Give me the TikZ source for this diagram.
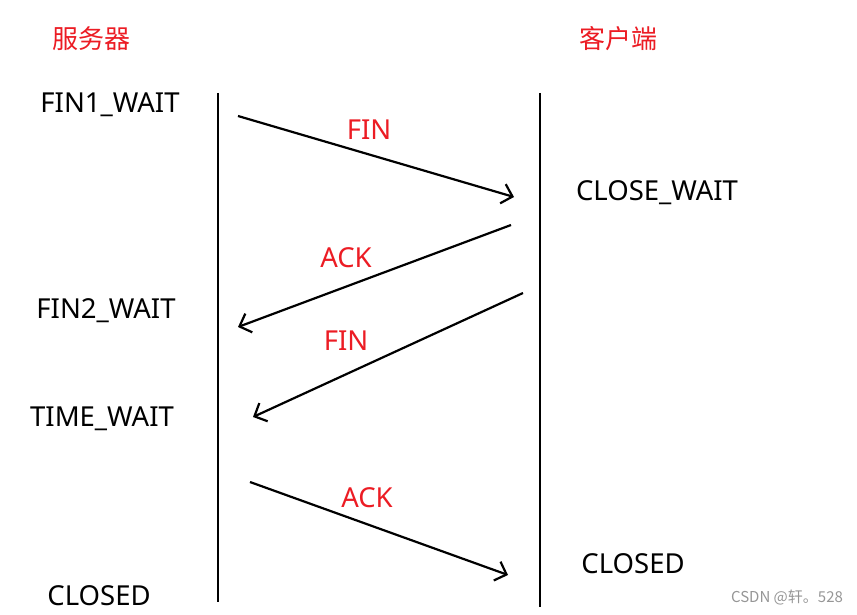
\documentclass[tikz,border=0pt]{standalone}
\usepackage{fontspec}
\setmainfont{Noto Sans}
\newfontfamily\cjk{Noto Sans CJK SC}
\usetikzlibrary{arrows.meta}
\definecolor{lblred}{RGB}{236,28,36}
\definecolor{wmgray}{RGB}{150,150,150}
\begin{document}
\begin{tikzpicture}[x=1pt,y=-1pt,
  state/.style={font=\fontsize{27.5}{32}\selectfont, text=black, inner sep=0pt, yshift=-2pt},
  title/.style={font=\cjk\fontsize{26}{30}\selectfont, text=lblred, inner sep=0pt},
  msg/.style={font=\fontsize{27.5}{32}\selectfont, text=lblred, inner sep=0pt, yshift=-1.5pt},
  lifeline/.style={line width=2.2pt},
  msgarrow/.style={line width=2.2pt, -{Straight Barb[length=10pt,width=20pt,line width=2.2pt]}}]
\useasboundingbox[fill=white] (0,0) rectangle (857,615);
% titles
\node[title] (srv) at (91,39) {服务器};
\node[title] (cli) at (618,39) {客户端};
% states
\node[state] (s1) at (110,103) {FIN1\_WAIT};
\node[state] (c1) at (657,191) {CLOSE\_WAIT};
\node[state] (s2) at (106,309) {FIN2\_WAIT};
\node[state] (s3) at (102,417) {TIME\_WAIT};
\node[state] (s4) at (99,594) {CLOSED};
\node[state] (c2) at (633,562) {CLOSED};
% lifelines
\coordinate (Ltop) at (218,93);
\coordinate (Lbot) at (218,602);
\coordinate (Rtop) at (540,93);
\coordinate (Rbot) at (540,607);
\draw[lifeline] (Ltop) -- (Lbot);
\draw[lifeline] (Rtop) -- (Rbot);
% message endpoints
\coordinate (a1s) at (238,116); \coordinate (a1e) at (514,197);
\coordinate (a2s) at (511,225); \coordinate (a2e) at (238,327);
\coordinate (a3s) at (523,293); \coordinate (a3e) at (253,417);
\coordinate (a4s) at (250,482); \coordinate (a4e) at (508,575);
\draw[msgarrow] (a1s) -- (a1e);
\draw[msgarrow] (a2s) -- (a2e);
\draw[msgarrow] (a3s) -- (a3e);
\draw[msgarrow] (a4s) -- (a4e);
% labels
\node[msg] (m1) at (369,128) {FIN};
\node[msg] (m2) at (346,256) {ACK};
\node[msg] (m3) at (346,339) {FIN};
\node[msg] (m4) at (367,496) {ACK};
% watermark
\node[font=\cjk\fontsize{15}{18}\selectfont, text=wmgray, inner sep=0pt] (wm) at (787,598) {CSDN @轩。528};
\end{tikzpicture}
\end{document}
